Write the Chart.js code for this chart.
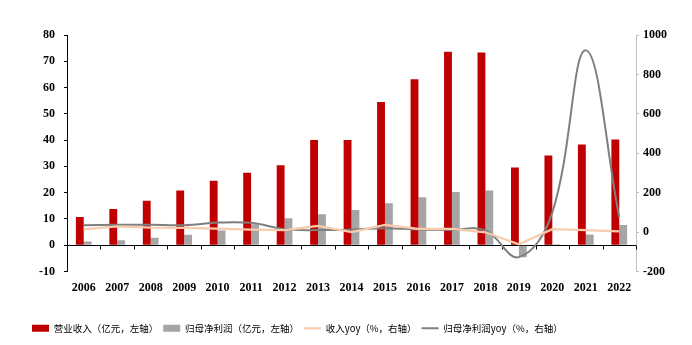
<!DOCTYPE html>
<html>
<head>
<meta charset="utf-8">
<script src="https://cdn.jsdelivr.net/npm/chart.js@4"></script>
<style>
  body { margin: 0; background: #fff; }
</style>
</head>
<body>
<canvas id="chart" width="692" height="345"></canvas>
<script>
const years = ["2006", "2007", "2008", "2009", "2010", "2011", "2012", "2013", "2014",
  "2015", "2016", "2017", "2018", "2019", "2020", "2021", "2022"];

// 亿元, left axis
const revenue = [10.7, 13.8, 16.9, 20.8, 24.5, 27.6, 30.4, 40.0, 40.0, 54.5, 63.2, 73.6, 73.3, 29.6, 34.1, 38.3, 40.2];
const netProfit = [1.4, 1.9, 2.8, 4.0, 5.6, 8.0, 10.3, 11.8, 13.4, 16.0, 18.3, 20.3, 20.8, -4.6, 0.4, 4.1, 7.7];

// %, right axis
const revenueYoy = [14, 29, 23, 21, 18, 13, 10, 32, 0, 36, 16, 16, -1, -62, 15, 10, 4];
const netProfitYoy = [35, 37, 37, 35, 48, 47, 15, 10, 13, 20, 13, 11, 9, -127, 100, 922, 75];

const serif = "'Liberation Serif', 'Times New Roman', serif";
const cjk = "'Noto Sans CJK SC', sans-serif";

// axis line at zero with tick marks between categories (Excel style)
const zeroAxis = {
  id: "zeroAxis",
  beforeDatasetsDraw(chart) {
    const { ctx, chartArea, scales } = chart;
    const y = Math.round(scales.y.getPixelForValue(0)) + 0.5;
    const n = years.length;
    const step = (chartArea.right - chartArea.left) / n;
    ctx.save();
    ctx.strokeStyle = "#000";
    ctx.lineWidth = 1;
    ctx.beginPath();
    ctx.moveTo(chartArea.left, y);
    ctx.lineTo(chartArea.right, y);
    for (let i = 1; i <= n; i++) {
      const x = Math.round(chartArea.left + step * i) + 0.5;
      ctx.moveTo(x, y);
      ctx.lineTo(x, y + 4);
    }
    ctx.stroke();
    ctx.restore();
  }
};

new Chart(document.getElementById("chart"), {
  type: "bar",
  data: {
    labels: years,
    datasets: [
      {
        label: "营业收入（亿元，左轴）",
        data: revenue,
        backgroundColor: "#c00000",
        borderWidth: 0,
        yAxisID: "y",
        order: 1,
        pointStyle: "rect",
        barPercentage: 1,
        categoryPercentage: 0.47
      },
      {
        label: "归母净利润（亿元，左轴）",
        data: netProfit,
        backgroundColor: "#a5a5a5",
        borderWidth: 0,
        yAxisID: "y",
        order: 1,
        pointStyle: "rect",
        barPercentage: 1,
        categoryPercentage: 0.47
      },
      {
        type: "line",
        label: "收入yoy（%，右轴）",
        data: revenueYoy,
        borderColor: "#f8cbad",
        backgroundColor: "#f8cbad",
        borderWidth: 2.25,
        tension: 0,
        pointRadius: 0,
        pointStyle: "line",
        yAxisID: "y1",
        order: 0
      },
      {
        type: "line",
        label: "归母净利润yoy（%，右轴）",
        data: netProfitYoy,
        borderColor: "#7f7f7f",
        backgroundColor: "#7f7f7f",
        borderWidth: 2,
        tension: 0.4,
        pointRadius: 0,
        pointStyle: "line",
        yAxisID: "y1",
        order: 0
      }
    ]
  },
  options: {
    responsive: false,
    animation: false,
    layout: {
      padding: { top: 35, left: 27, right: 25, bottom: 2 }
    },
    scales: {
      x: {
        grid: { display: false },
        border: { display: false },
        ticks: {
          color: "#000",
          padding: 1,
          autoSkip: false,
          maxRotation: 0,
          font: { family: serif, size: 12, weight: "bold" }
        },
        afterFit: (scale) => { scale.height = 47; }
      },
      y: {
        position: "left",
        min: -10,
        max: 80,
        ticks: {
          stepSize: 10,
          color: "#000",
          padding: 9,
          font: { family: serif, size: 12, weight: "bold" }
        },
        grid: { drawOnChartArea: false, color: "#000", tickLength: 3 },
        border: { color: "#000" },
        afterFit: (scale) => { scale.width = 40; }
      },
      y1: {
        position: "right",
        min: -200,
        max: 1000,
        ticks: {
          stepSize: 200,
          color: "#000",
          padding: 4,
          font: { family: serif, size: 12, weight: "bold" },
          callback: (value) => String(value)
        },
        grid: { drawOnChartArea: false, color: "#bfbfbf", tickLength: 3 },
        border: { color: "#bfbfbf" },
        afterFit: (scale) => { scale.width = 31; }
      }
    },
    plugins: {
      legend: {
        position: "bottom",
        align: "start",
        labels: {
          usePointStyle: true,
          pointStyleWidth: 17,
          boxHeight: 7,
          padding: 5,
          color: "#000",
          font: { family: cjk, size: 9.5 },
          sort: (a, b) => a.datasetIndex - b.datasetIndex
        }
      },
      tooltip: { enabled: false }
    }
  },
  plugins: [zeroAxis]
});
</script>
</body>
</html>
